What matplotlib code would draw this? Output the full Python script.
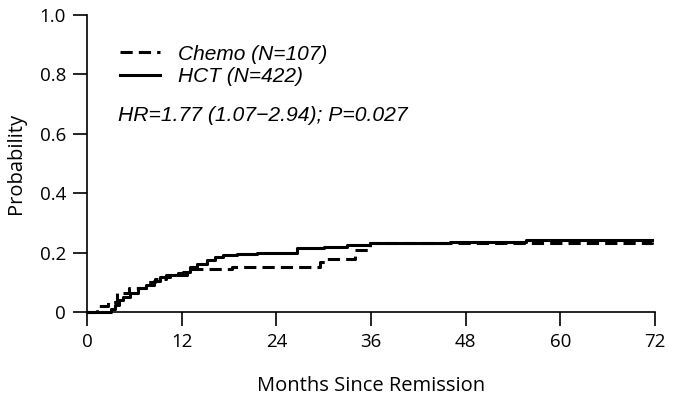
import numpy as np
import matplotlib
matplotlib.use("Agg")
import matplotlib.pyplot as plt

# step curves (months, cumulative probability)
chemo_t = [0, 1.3, 2.7, 3.8, 5.3, 7.5, 8.6, 10.0, 12.7, 18.4, 29.5, 30.2, 34.0, 35.9, 71.6]
chemo_p = [0, 0.02, 0.035, 0.063, 0.08, 0.10, 0.11, 0.125, 0.145, 0.152, 0.17, 0.18, 0.21, 0.232, 0.235]

hct_t = [0, 2.5, 3.0, 3.5, 4.0, 4.6, 5.5, 6.5, 7.5, 8.5, 9.3, 10.5, 11.5, 12.2, 13.0, 14.0,
         15.2, 16.2, 17.3, 19.0, 21.5, 24.0, 26.6, 30.0, 33.0, 35.9, 40.0, 46.0, 52.0, 55.7, 71.6]
hct_p = [0, 0, 0.01, 0.025, 0.04, 0.05, 0.065, 0.08, 0.09, 0.105, 0.118, 0.125, 0.13, 0.136,
         0.15, 0.163, 0.175, 0.185, 0.192, 0.195, 0.197, 0.200, 0.214, 0.218, 0.224, 0.231,
         0.233, 0.235, 0.235, 0.242, 0.243]

xticks = [0, 12, 24, 36, 48, 60, 72]
yticks = [0, 0.2, 0.4, 0.6, 0.8, 1.0]
ytick_labels = ["0", "0.2", "0.4", "0.6", "0.8", "1.0"]

plt.rcParams['font.family'] = ['Open Sans', 'DejaVu Sans']

fig = plt.figure(figsize=(6.74, 4.0), dpi=100)
ax = fig.add_axes([0.129, 0.22, 0.843, 0.7425])

ax.step(chemo_t, chemo_p, where='post', color='black', lw=2.2,
        linestyle=(0, (4, 2)), label='Chemo (N=107)', clip_on=False)
ax.step(hct_t, hct_p, where='post', color='black', lw=2.2,
        label='HCT (N=422)', clip_on=False)

ax.set_xlim(0, 72)
ax.set_ylim(0, 1)
ax.set_xticks(xticks)
ax.set_yticks(yticks)
ax.set_yticklabels(ytick_labels)
ax.tick_params(direction='out', length=10, width=1.2, labelsize=13.5, pad=5)
for s in ['top', 'right']:
    ax.spines[s].set_visible(False)
for s in ['left', 'bottom']:
    ax.spines[s].set_linewidth(1.2)

ax.set_xlabel('Months Since Remission', fontsize=14.5, labelpad=18)
ax.set_ylabel('Probability', fontsize=14.5, labelpad=10)

leg = ax.legend(loc='upper left', bbox_to_anchor=(0.026, 0.963), frameon=False,
                handlelength=1.9, handletextpad=0.85, labelspacing=0.15,
                prop={'family': 'Liberation Sans', 'style': 'italic', 'size': 15})

ax.text(3.9, 0.663, 'HR=1.77 (1.07\u22122.94); P=0.027', fontsize=15.2,
        family='Liberation Sans', style='italic', va='center', ha='left')

fig.savefig('out.png', dpi=100)
